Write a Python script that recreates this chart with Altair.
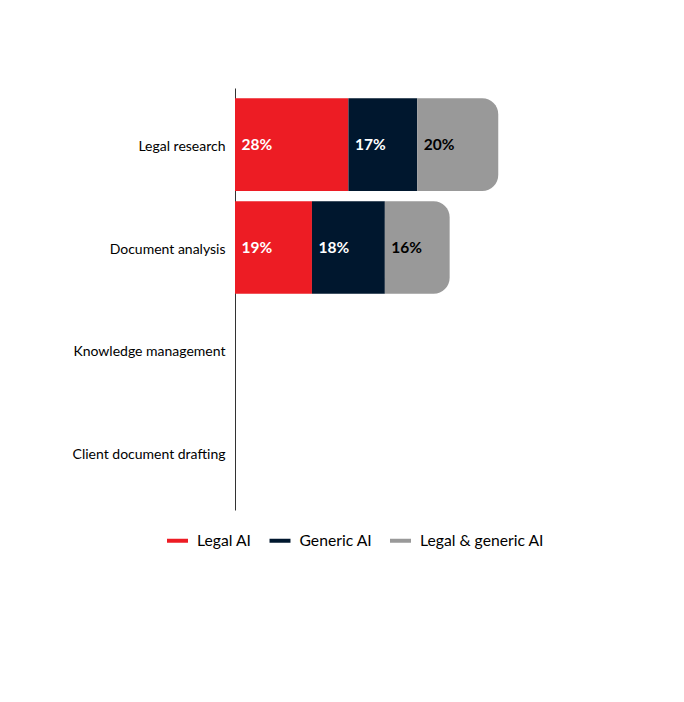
import altair as alt
import pandas as pd

categories = ["Legal research", "Document analysis", "Knowledge management", "Client document drafting"]
series = ["Legal AI", "Generic AI", "Legal & generic AI"]
colors = ["#ED1C24", "#00172E", "#999999"]
legal_ai = [28, 19, None, None]
generic_ai = [17, 18, None, None]
legal_generic_ai = [20, 16, None, None]

rows = []
for s_idx, (s, vals) in enumerate(zip(series, [legal_ai, generic_ai, legal_generic_ai])):
    for c, v in zip(categories, vals):
        if v is not None:
            rows.append({"category": c, "series": s, "order": s_idx, "value": v})
df = pd.DataFrame(rows)

FONT = "Lato"

base = alt.Chart(df).transform_stack(
    stack="value", groupby=["category"], as_=["x0", "x1"], sort=[alt.SortField("order")]
)

y_enc = alt.Y("category:N", scale=alt.Scale(domain=categories, paddingInner=0.1, paddingOuter=0.1),
              axis=alt.Axis(title=None, ticks=False, labelPadding=10, labelFont=FONT, labelFontSize=14,
                            labelOffset=2, labelColor="#000", domainColor="#333", domainWidth=1))
x_scale = alt.Scale(domain=[0, 100])
legend = alt.Legend(title=None, orient="none", direction="horizontal",
                    legendX=-70, legendY=440, symbolType="stroke",
                    symbolStrokeWidth=4, symbolSize=440, labelFont=FONT,
                    labelFontSize=15.7, labelColor="#000", labelOffset=7,
                    columnPadding=9.5)
color_scale = alt.Scale(domain=series, range=colors)
color_enc = alt.Color("series:N", scale=color_scale, legend=legend)
stroke_enc = alt.Stroke("series:N", scale=color_scale, legend=legend)

bars_plain = base.transform_filter(alt.datum.order < 2).mark_bar(strokeWidth=0).encode(
    x=alt.X("x0:Q", scale=x_scale, axis=None), x2="x1:Q", y=y_enc, color=color_enc, stroke=stroke_enc)

bars_round = base.transform_filter(alt.datum.order == 2).mark_bar(
    strokeWidth=0, cornerRadiusTopRight=16, cornerRadiusBottomRight=16).encode(
    x=alt.X("x0:Q", scale=x_scale, axis=None), x2="x1:Q", y=y_enc, color=color_enc, stroke=stroke_enc)

labels = base.transform_calculate(label="datum.value + '%'").mark_text(
    align="left", baseline="middle", dx=6.5, font=FONT, fontSize=15.5, fontWeight="bold").encode(
    x=alt.X("x0:Q", scale=x_scale, axis=None), y=y_enc, text="label:N",
    color=alt.condition(alt.datum.order == 2, alt.value("#000"), alt.value("#fff")))

chart = alt.layer(bars_plain, bars_round, labels).properties(
    width=405, height=422,
    autosize=alt.AutoSizeParams(type="none"),
    padding={"left": 227, "top": 80, "right": 30, "bottom": 180},
).configure(background="#ffffff").configure_view(stroke=None)

chart.save("out.html", embed_options={"renderer": "svg", "actions": False})
